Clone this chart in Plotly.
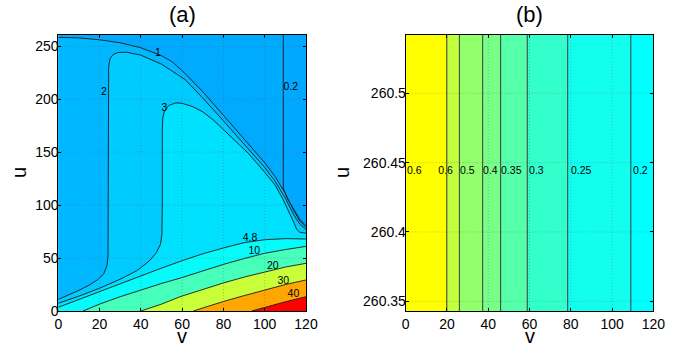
import plotly.graph_objects as go
from plotly.subplots import make_subplots

V_MAX = 120
U_TOP_A = 260.54
U_RANGE_B = [260.343, 260.542]

# ---------------- panel (a): contour lines ----------------
c02_v = [109, 109, 111, 114, 117, 120]
c02_u = [U_TOP_A, 116, 106, 96, 86.5, 80.5]

c1_v = [0, 10, 20, 30, 40, 50, 55, 61, 70, 80, 90, 100, 105, 110, 114, 117, 120]
c1_u = [258.3, 257.8, 256, 253.2, 248.5, 241, 235.5, 225, 207, 185, 163, 140, 127, 111, 95, 85, 79]

c2_v = [0, 5, 10, 15, 19, 22, 23.6, 24.1, 24.2, 24.2, 24.4, 25, 26.5, 29, 33, 40, 50, 61.4,
        70, 80, 90, 100, 105, 110, 114, 117, 120]
c2_u = [11, 15, 19.5, 24.5, 29.5, 35, 43, 52, 100, 200, 230, 238, 242, 244, 244.3, 241.5, 233,
        218.5, 201, 179.5, 158, 135.5, 122.5, 106.5, 91, 82, 77]

c3_v = [0, 10, 20, 30, 38, 44, 47.5, 49.5, 50.2, 50.4, 50.4, 50.6, 51.5, 53.5, 57, 60, 65, 70,
        75, 80, 85, 92, 100, 105, 109, 112, 114, 115.5, 117, 120]
c3_u = [7.3, 14, 21.5, 30, 38, 47, 55, 63, 72, 100, 170, 182, 189, 194, 196.5, 196, 193, 188,
        180.5, 171, 161.5, 149, 131, 119, 105, 93, 84, 77, 74.3, 73.5]

c48_v = [0, 10, 20, 30, 40, 50, 60, 70, 80, 90, 100, 110, 120]
c48_u = [3.5, 11, 18.5, 26, 33.5, 40.5, 47.5, 54, 59.5, 64.5, 67.3, 68.3, 68]

c10_v = [12, 20, 30, 40, 50, 59, 70, 80, 90, 100, 110, 120]
c10_u = [0, 6.5, 13.5, 20, 26, 31, 38, 44, 49.5, 54.5, 58, 61]

c20_v = [40, 50, 59, 70, 80, 90, 100, 110, 120]
c20_u = [0, 6.5, 13.5, 20.5, 26.5, 32, 37, 41.5, 45]

c30_v = [65.4, 70, 80, 90, 100, 110, 120]
c30_u = [0, 3, 9, 14.5, 20, 25, 29.3]

c40_v = [93.7, 100, 110, 120]
c40_u = [0, 3.5, 8.7, 13.5]

a_lab_text = ["1", "2", "3", "0.2", "4.8", "10", "20", "30", "40"]
a_lab_v = [48.3, 22.1, 51.4, 112.7, 92.9, 95.0, 103.9, 109.0, 113.9]
a_lab_u = [243.1, 206.5, 191.7, 211.2, 68.7, 56.1, 42.6, 28.4, 16.0]

a_colors = ["#00A8FF", "#00AAFF", "#00B8FF", "#00CBFF", "#00E1FF", "#06FCFA",
            "#45FFBA", "#C8FF38", "#FFA600", "#FF0000"]

# ---------------- panel (b): vertical bands ----------------
b_edges = [0, 19.9, 26.0, 37.3, 46.0, 58.9, 78.5, 109.1, 120]
b_colors = ["#FFFF00", "#C2FF3D", "#92FF6D", "#78FF87", "#56FFA9", "#33FFCC", "#12FFED", "#00FFFF"]
b_lab_text = ["0.6", "0.6", "0.5", "0.4", "0.35", "0.3", "0.25", "0.2"]
b_lab_v = [0.6, 15.8, 26.3, 37.5, 46.2, 59.8, 80.1, 110.2]
b_lab_u = 260.444

x_ticks = [0, 20, 40, 60, 80, 100, 120]
a_yticks = [0, 50, 100, 150, 200, 250]
b_yticks = [260.35, 260.4, 260.45, 260.5]
b_yticktext = ["260.35", "260.4", "260.45", "260.5"]

FONT = "Liberation Sans, Arial, sans-serif"
LINE = "#1c1c1c"

fig = make_subplots(rows=1, cols=2)


def region(cv, cu):
    # superlevel area: the curve, closed through the lower-right corner
    xs, ys = list(cv), list(cu)
    if cu[0] >= U_TOP_A:
        xs, ys = [0] + xs, [U_TOP_A] + ys
    xs += [V_MAX]
    ys += [0]
    if cv[0] == 0 or cu[0] >= U_TOP_A:
        xs += [0]
        ys += [0]
    return xs, ys


curves = [(c02_v, c02_u), (c1_v, c1_u), (c2_v, c2_u), (c3_v, c3_u), (c48_v, c48_u),
          (c10_v, c10_u), (c20_v, c20_u), (c30_v, c30_u), (c40_v, c40_u)]

# background (lowest level) fills the whole box
fig.add_trace(go.Scatter(x=[0, 0, V_MAX, V_MAX], y=[0, U_TOP_A, U_TOP_A, 0], fill="toself",
                         fillcolor=a_colors[0], line=dict(width=0), mode="lines",
                         hoverinfo="skip", showlegend=False), row=1, col=1)
for (cv, cu), col in zip(curves, a_colors[1:]):
    xs, ys = region(cv, cu)
    fig.add_trace(go.Scatter(x=xs, y=ys, fill="toself", fillcolor=col, line=dict(width=0),
                             mode="lines", hoverinfo="skip", showlegend=False), row=1, col=1)
for cv, cu in curves:
    fig.add_trace(go.Scatter(x=cv, y=cu, mode="lines", line=dict(color=LINE, width=0.9),
                             hoverinfo="skip", showlegend=False), row=1, col=1)
fig.add_trace(go.Scatter(x=a_lab_v, y=a_lab_u, text=a_lab_text, mode="text",
                         textfont=dict(family=FONT, size=10.5, color="black"),
                         hoverinfo="skip", showlegend=False), row=1, col=1)

# panel (b)
for i, col in enumerate(b_colors):
    a, b = b_edges[i], b_edges[i + 1]
    fig.add_trace(go.Scatter(x=[a, a, b, b], y=[U_RANGE_B[0], U_RANGE_B[1], U_RANGE_B[1], U_RANGE_B[0]],
                             fill="toself", fillcolor=col, line=dict(width=0), mode="lines",
                             hoverinfo="skip", showlegend=False), row=1, col=2)
for e in b_edges[1:-1]:
    fig.add_trace(go.Scatter(x=[e, e], y=U_RANGE_B, mode="lines", line=dict(color="#3a3a3a", width=1),
                             hoverinfo="skip", showlegend=False), row=1, col=2)
fig.add_trace(go.Scatter(x=b_lab_v, y=[b_lab_u] * len(b_lab_v), text=b_lab_text, mode="text",
                         textposition="middle right",
                         textfont=dict(family=FONT, size=10.5, color="black"),
                         hoverinfo="skip", showlegend=False), row=1, col=2)

# dotted grid drawn above the fills (MATLAB style)
grid = dict(color="rgba(90,90,90,0.35)", width=1, dash="1px,2px")
for c in (1, 2):
    for t in x_ticks[1:-1]:
        fig.add_vline(x=t, line=grid, layer="above", row=1, col=c)
for t in a_yticks[1:]:
    fig.add_hline(y=t, line=grid, layer="above", row=1, col=1)
for t in b_yticks:
    fig.add_hline(y=t, line=grid, layer="above", row=1, col=2)

axis_common = dict(showline=True, linecolor="black", linewidth=1, mirror="ticks", ticks="inside",
                   ticklen=3, tickcolor="black", showgrid=False, zeroline=False, automargin=False,
                   tickfont=dict(family=FONT, size=14, color="black"))

fig.update_xaxes(**axis_common, range=[0, V_MAX], tickvals=x_ticks)
fig.update_yaxes(**axis_common, ticklabelstandoff=-4)
fig.update_yaxes(range=[0, U_TOP_A], tickvals=a_yticks, row=1, col=1)
fig.update_yaxes(range=U_RANGE_B, tickvals=b_yticks, ticktext=b_yticktext, row=1, col=2)

title_font = dict(family=FONT, size=22, color="black")
label_font = dict(family=FONT, size=20, color="black")
fig.update_layout(
    width=694, height=350, margin=dict(l=0, r=0, t=0, b=0),
    paper_bgcolor="white", plot_bgcolor="white",
    xaxis=dict(domain=[0.084, 0.4409]),
    xaxis2=dict(domain=[0.5846, 0.9414]),
    yaxis=dict(domain=[0.1114, 0.9]),
    yaxis2=dict(domain=[0.1114, 0.9]),
    annotations=[
        dict(text="(a)", x=0.2625, y=1.0, xref="paper", yref="paper", xanchor="center", yanchor="top",
             yshift=0, showarrow=False, font=title_font),
        dict(text="(b)", x=0.763, y=1.0, xref="paper", yref="paper", xanchor="center", yanchor="top",
             yshift=0, showarrow=False, font=title_font),
        dict(text="v", x=0.2625, y=0.0386, xref="paper", yref="paper", xanchor="center", yanchor="middle",
             showarrow=False, font=label_font),
        dict(text="v", x=0.763, y=0.0386, xref="paper", yref="paper", xanchor="center", yanchor="middle",
             showarrow=False, font=label_font),
        dict(text="u", x=0.0274, y=0.506, xref="paper", yref="paper", xanchor="center", yanchor="middle",
             textangle=-90, showarrow=False, font=label_font),
        dict(text="u", x=0.4928, y=0.506, xref="paper", yref="paper", xanchor="center", yanchor="middle",
             textangle=-90, showarrow=False, font=label_font),
    ],
)

# the page's default 8px body margin would shift the figure
fig.write_html("out.html", config={"displayModeBar": False},
               post_script="document.body.style.margin = '0px';")
